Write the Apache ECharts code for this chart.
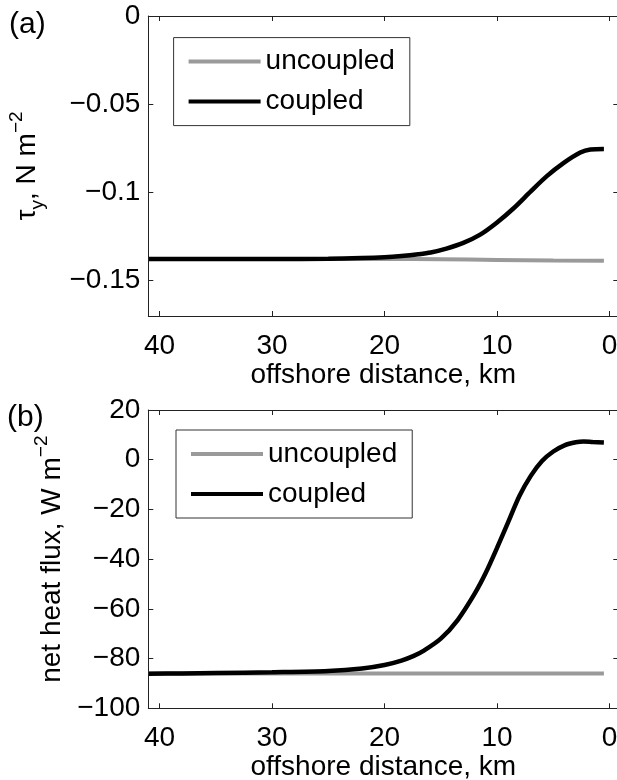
<!DOCTYPE html>
<html lang="en" style="height: 100%">
<head>
  <meta charset="UTF-8" />
  <title>wind stress and heat flux</title>
  <script src="https://cdn.jsdelivr.net/npm/echarts@6/dist/echarts.min.js"></script>
</head>
<body style="height: 100%; margin: 0; background: #fff">
  <div id="main" style="width: 617px; height: 780px"></div>
  <script type="text/javascript">
    // (a) alongshore wind stress, N m^-2
    var kmA = [41, 35, 30, 25, 22, 20, 18.5, 17, 15.9, 14.5, 13, 11.5, 10, 8.5, 7, 5.6, 4.1, 2.6, 1.7, 0.5];
    var tauCoupled = [-0.1377, -0.1377, -0.1377, -0.1376, -0.1372, -0.1367, -0.1360, -0.1350, -0.1340, -0.1318,
      -0.1286, -0.1239, -0.1170, -0.1088, -0.0994, -0.0909, -0.0834, -0.0774, -0.0756, -0.0753];
    var kmAu = [41, 30, 20, 15, 10, 5, 0.5];
    var tauUncoupled = [-0.1377, -0.1377, -0.1377, -0.1379, -0.1382, -0.1385, -0.1387];

    // (b) net heat flux, W m^-2
    var kmB = [41, 38, 35, 30, 25, 22, 20, 18.5, 17.4, 16.5, 15, 13.5, 12, 11, 10, 9, 8, 7, 6, 5, 4, 3, 2.3, 1.5, 0.5];
    var fluxCoupled = [-86.1, -86.0, -85.8, -85.5, -85.0, -84.0, -82.6, -80.8, -78.9, -76.8, -72.0, -64.5, -54.0,
      -45.5, -35.5, -25.0, -14.5, -6.5, -0.5, 3.3, 5.8, 7.0, 7.3, 7.1, 6.9];
    var kmBu = [41, 20, 0.5];
    var fluxUncoupled = [-86.0, -86.0, -86.0];

    var xTicks = [0, 10, 20, 30, 40];
    var yTicksA = [-0.15, -0.1, -0.05, 0];
    var yTicksB = [-100, -80, -60, -40, -20, 0, 20];

    var FONT = 'Liberation Sans';
    var GRAY = '#9a9a9a';

    function pairs(xs, ys) {
      return xs.map(function (x, i) { return [x, ys[i]]; });
    }
    function minus(v) {
      return String(v).replace('-', '\u2212');
    }

    var myChart = echarts.init(document.getElementById('main'));

    // x axis, one for each panel plus a top copy for the box
    function xAxisFor(grid, pos) {
      var shown = pos === 'bottom';
      return {
        type: 'value', gridIndex: grid, position: pos, inverse: true,
        min: -0.78, max: 41,
        splitLine: { show: false },
        axisLine: { show: true, onZero: false, lineStyle: { color: '#222', width: 1 } },
        axisTick: { show: true, inside: true, length: 5, customValues: xTicks, lineStyle: { color: '#222' } },
        axisLabel: {
          show: shown, customValues: xTicks, margin: 16,
          color: '#000', fontSize: 28, fontFamily: FONT
        },
        name: shown ? 'offshore distance, km' : '',
        nameLocation: 'middle', nameGap: 45,
        nameTextStyle: { color: '#000', fontSize: 28, fontFamily: FONT }
      };
    }

    var richStyle = {
      t: { fontSize: 28, fontFamily: FONT, color: '#000', lineHeight: 40 },
      s: { fontSize: 19, fontFamily: FONT, color: '#000', lineHeight: 19, verticalAlign: 'bottom' },
      p: { fontSize: 19, fontFamily: FONT, color: '#000', lineHeight: 19, verticalAlign: 'top' }
    };

    function yAxisFor(grid, pos, ticks, min, max, name, gap) {
      var shown = pos === 'left';
      return {
        type: 'value', gridIndex: grid, position: pos,
        min: min, max: max,
        splitLine: { show: false },
        axisLine: { show: shown, onZero: false, lineStyle: { color: '#222', width: 1 } },
        axisTick: { show: true, inside: true, length: 5, customValues: ticks, lineStyle: { color: '#222' } },
        axisLabel: {
          show: shown, customValues: ticks, margin: 8,
          color: '#000', fontSize: 28, fontFamily: FONT,
          formatter: minus
        },
        name: shown ? name : '',
        nameLocation: 'middle', nameRotate: 90, nameGap: gap,
        nameTextStyle: { rich: richStyle }
      };
    }

    function legendAt(left, top) {
      return {
        left: left, top: top, orient: 'vertical',
        data: ['uncoupled', 'coupled'],
        icon: 'rect',
        itemWidth: 72, itemHeight: 4, itemGap: 12,
        padding: [10, 15, 10, 15],
        borderColor: '#333', borderWidth: 1, backgroundColor: '#fff',
        textStyle: { color: '#000', fontSize: 28, fontFamily: FONT, lineHeight: 28 },
        selectedMode: false
      };
    }

    var option = {
      animation: false,
      backgroundColor: '#fff',
      title: [
        { text: '(a)', left: 9, top: 10, padding: 0, textStyle: { fontSize: 30, fontWeight: 'normal', fontFamily: FONT, color: '#000' } },
        { text: '(b)', left: 7, top: 403, padding: 0, textStyle: { fontSize: 30, fontWeight: 'normal', fontFamily: FONT, color: '#000' } }
      ],
      grid: [
        { left: 148.3, top: 16, width: 470, height: 300, outerBoundsMode: 'none', containLabel: false },
        { left: 148.3, top: 410, width: 470, height: 298.3, outerBoundsMode: 'none', containLabel: false }
      ],
      xAxis: [
        xAxisFor(0, 'bottom'), xAxisFor(0, 'top'),
        xAxisFor(1, 'bottom'), xAxisFor(1, 'top')
      ],
      yAxis: [
        yAxisFor(0, 'left', yTicksA, -0.17, 0, '{t|\u03c4}{s|y}{t|, N m}{p|\u22122}', 101),
        yAxisFor(0, 'right', yTicksA, -0.17, 0, '', 0),
        yAxisFor(1, 'left', yTicksB, -100, 20, '{t|net heat flux, W m}{p|\u22122}', 75),
        yAxisFor(1, 'right', yTicksB, -100, 20, '', 0)
      ],
      legend: [legendAt(173.6, 37.6), legendAt(176, 430)],
      series: [
        {
          name: 'uncoupled', type: 'line', xAxisIndex: 0, yAxisIndex: 0,
          data: pairs(kmAu, tauUncoupled), symbol: 'none', smooth: true,
          lineStyle: { color: GRAY, width: 4 }, itemStyle: { color: GRAY }
        },
        {
          name: 'coupled', type: 'line', xAxisIndex: 0, yAxisIndex: 0,
          data: pairs(kmA, tauCoupled), symbol: 'none', smooth: 0.3,
          lineStyle: { color: '#000', width: 4.5 }, itemStyle: { color: '#000' }
        },
        {
          name: 'uncoupled', type: 'line', xAxisIndex: 2, yAxisIndex: 2,
          data: pairs(kmBu, fluxUncoupled), symbol: 'none',
          lineStyle: { color: GRAY, width: 4 }, itemStyle: { color: GRAY }
        },
        {
          name: 'coupled', type: 'line', xAxisIndex: 2, yAxisIndex: 2,
          data: pairs(kmB, fluxCoupled), symbol: 'none', smooth: 0.3,
          lineStyle: { color: '#000', width: 4.5 }, itemStyle: { color: '#000' }
        }
      ]
    };

    myChart.setOption(option);
    window.addEventListener('resize', myChart.resize);
  </script>
</body>
</html>
